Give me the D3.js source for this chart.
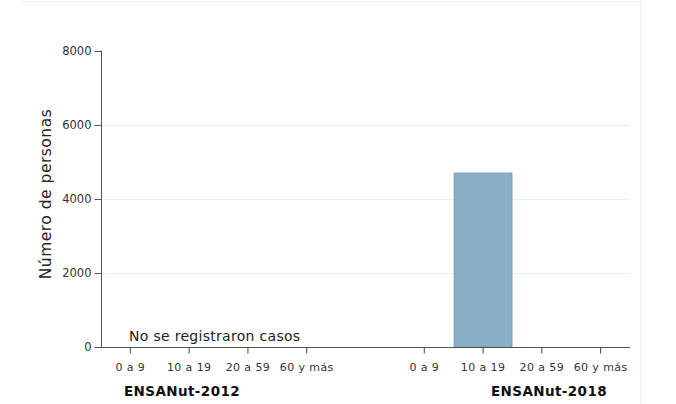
<!DOCTYPE html>
<html><head><meta charset="utf-8">
<script src="https://cdn.jsdelivr.net/npm/d3@7"></script>
<style>
html,body{margin:0;padding:0;background:#fff;}
svg{display:block;font-family:"DejaVu Sans",sans-serif;}
</style></head>
<body>
<svg id="chart" width="676" height="404"></svg>
<script>
const surveys = ["ENSANut-2012", "ENSANut-2018"];
const ageGroups = ["0 a 9", "10 a 19", "20 a 59", "60 y más"];
const values2012 = [0, 0, 0, 0];
const values2018 = [0, 4700, 0, 0];
const yTicks = [0, 2000, 4000, 6000, 8000];
const noDataNote = "No se registraron casos";
const yTitle = "Número de personas";

const data = [
  {survey: surveys[0], values: values2012},
  {survey: surveys[1], values: values2018}
];

const svg = d3.select("#chart");
const m = {left: 101, right: 46, top: 51, bottom: 57};
const W = 676, H = 404;

// faint card border
svg.append("line").attr("x1", 22).attr("x2", 640.5).attr("y1", 1.5).attr("y2", 1.5)
  .attr("stroke", "#eef0f2").attr("stroke-width", 1);
svg.append("line").attr("x1", 640.5).attr("x2", 640.5).attr("y1", 1.5).attr("y2", H)
  .attr("stroke", "#eef0f2").attr("stroke-width", 1);

const y = d3.scaleLinear().domain([0, 8000]).range([H - m.bottom, m.top]);
const x0 = d3.scaleBand().domain(surveys).range([m.left, W - m.right]).paddingInner(0.2).paddingOuter(0);
const x1 = d3.scaleBand().domain(ageGroups).range([0, x0.bandwidth()]).padding(0);

// gridlines
svg.append("g").selectAll("line").data(yTicks.filter(d => d > 0 && d < 8000)).join("line")
  .attr("x1", m.left).attr("x2", W - m.right)
  .attr("y1", d => Math.round(y(d)) + 0.5).attr("y2", d => Math.round(y(d)) + 0.5)
  .attr("stroke", "#e6eff3").attr("stroke-width", 1);

// bars
const groups = svg.append("g").selectAll("g").data(data).join("g")
  .attr("transform", d => `translate(${x0(d.survey)},0)`);
groups.selectAll("rect").data(d => d.values.map((v, i) => ({age: ageGroups[i], v})).filter(e => e.v > 0)).join("rect")
  .attr("x", d => x1(d.age) + 0.5)
  .attr("width", x1.bandwidth() - 1)
  .attr("y", d => y(d.v))
  .attr("height", d => y(0) - y(d.v))
  .attr("fill", "#8aaec6").attr("stroke", "#709ab7").attr("stroke-width", 1);

// y axis
const yAxis = svg.append("g").attr("transform", `translate(${m.left + 0.5},0)`)
  .call(d3.axisLeft(y).tickValues(yTicks).tickSize(7).tickPadding(3).tickFormat(d3.format("d")));
yAxis.select(".domain").attr("stroke", "#555").attr("d", `M-1,${y(8000)}H0V${y(0)}`);
yAxis.selectAll(".tick line").attr("stroke", "#555");
yAxis.selectAll("text").attr("font-family", "DejaVu Sans").attr("font-size", 11.5).attr("fill", "#333");

// x axis line
svg.append("line").attr("x1", m.left).attr("x2", W - m.right)
  .attr("y1", y(0) + 0.5).attr("y2", y(0) + 0.5).attr("stroke", "#555").attr("stroke-width", 1);

// x ticks per group
surveys.forEach((s, gi) => {
  const g = svg.append("g").attr("transform", `translate(${x0(s)},${y(0) + 0.5})`)
    .call(d3.axisBottom(x1).tickSize(6).tickPadding(10));
  g.select(".domain").remove();
  g.selectAll(".tick line").attr("stroke", "#444");
  g.selectAll("text").attr("font-family", "DejaVu Sans").attr("font-size", 11)
    .attr("letter-spacing", 0.4).attr("fill", "#333");
});

// group labels
svg.append("text").attr("x", x0(surveys[0]) + 23).attr("y", 396)
  .attr("font-family", "DejaVu Sans").attr("font-weight", "bold").attr("font-size", 13.5)
  .attr("letter-spacing", 0.4).attr("fill", "#111")
  .text(surveys[0]);
svg.append("text").attr("x", x0(surveys[1]) + x0.bandwidth() - 23).attr("y", 396).attr("text-anchor", "end")
  .attr("font-family", "DejaVu Sans").attr("font-weight", "bold").attr("font-size", 13.5)
  .attr("letter-spacing", 0.4).attr("fill", "#111")
  .text(surveys[1]);

// no data note
svg.append("text").attr("x", x0(surveys[0]) + 28).attr("y", y(0) - 6)
  .attr("font-family", "DejaVu Sans").attr("font-size", 14).attr("letter-spacing", 0.3).attr("fill", "#222")
  .text(noDataNote);

// y title
svg.append("text").attr("transform", `translate(51,${(y(0) + y(8000)) / 2 - 5}) rotate(-90)`)
  .attr("text-anchor", "middle")
  .attr("font-family", "DejaVu Sans").attr("font-size", 15.5).attr("letter-spacing", 0.5).attr("fill", "#222")
  .text(yTitle);
</script>
</body></html>
